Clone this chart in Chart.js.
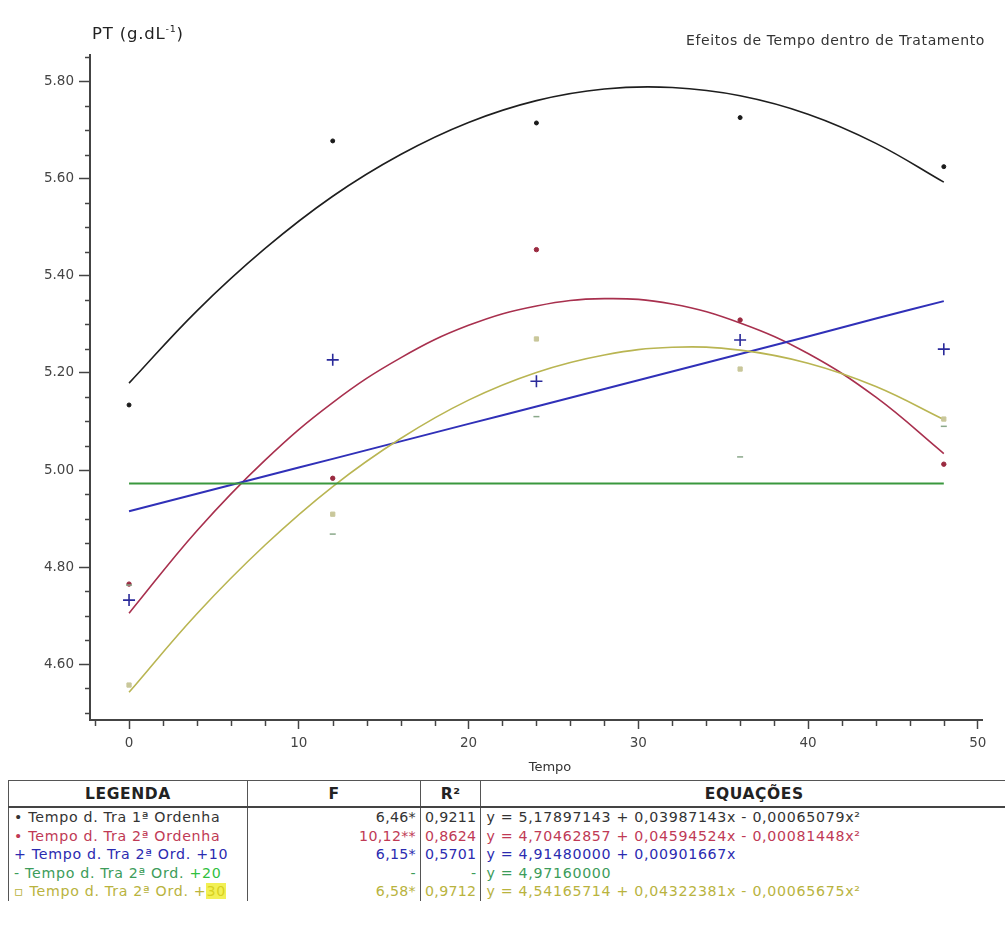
<!DOCTYPE html>
<html>
<head>
<meta charset="utf-8">
<script src="https://cdn.jsdelivr.net/npm/chart.js@4/dist/chart.umd.min.js"></script>
<style>
  html, body { margin:0; padding:0; background:#fff; width:1005px; height:933px; overflow:hidden; position:relative; font-family:"DejaVu Sans", "Liberation Sans", sans-serif; }
  #wrap { position:absolute; left:0; top:0; width:1005px; height:780px; }
  .ttl { position:absolute; color:#222; white-space:nowrap; }
  #ylab { left:92px; top:23px; font-size:16.5px; letter-spacing:0.8px; }
  #ylab sup { font-size:9.5px; }
  #rtitle { left:600px; top:32px; font-size:14px; letter-spacing:0.6px; color:#333; width:385px; text-align:right; }
  #xlab { left:500px; top:759px; width:100px; text-align:center; font-size:13px; color:#333; }
  table { position:absolute; left:8px; top:780px; border-collapse:collapse; font-size:14.2px; letter-spacing:0.7px; width:1020px; }
  td, th { border:1.5px solid #555; padding:0 5px; white-space:nowrap; height:18.5px; line-height:18px; }
  th { font-weight:bold; font-size:15.5px; letter-spacing:0.6px; height:25px; color:#222; border-bottom:2px solid #444; }
  tbody td { border-top:none; border-bottom:none; }
  td.n { text-align:right; padding:0 4px; letter-spacing:0.3px; }
  .r1 { color:#333; } .r2 { color:#c03a55; } .r3 { color:#2b2bb0; } .r4 { color:#3c9c5a; } .r5 { color:#b9b33e; }
  .hg { color:#2fc040; } .hy { background:#f2f055; color:#d8d020; }
</style>
</head>
<body>
<div id="wrap"><canvas id="c" width="1005" height="780"></canvas></div>
<div class="ttl" id="ylab">PT (g.dL<sup>-1</sup>)</div>
<div class="ttl" id="rtitle">Efeitos de Tempo dentro de Tratamento</div>
<div class="ttl" id="xlab">Tempo</div>
<table>
  <colgroup><col style="width:239px"><col style="width:173px"><col style="width:60px"><col></colgroup>
  <thead><tr><th>LEGENDA</th><th>F</th><th>R²</th><th>EQUAÇÕES</th></tr></thead>
  <tbody>
    <tr class="r1"><td>• Tempo d. Tra 1ª Ordenha</td><td class="n">6,46*</td><td class="n">0,9211</td><td>y = 5,17897143 + 0,03987143x - 0,00065079x²</td></tr>
    <tr class="r2"><td>• Tempo d. Tra 2ª Ordenha</td><td class="n">10,12**</td><td class="n">0,8624</td><td>y = 4,70462857 + 0,04594524x - 0,00081448x²</td></tr>
    <tr class="r3"><td>+ Tempo d. Tra 2ª Ord. +10</td><td class="n">6,15*</td><td class="n">0,5701</td><td>y = 4,91480000 + 0,00901667x</td></tr>
    <tr class="r4"><td>- Tempo d. Tra 2ª Ord. <span class="hg">+20</span></td><td class="n">-</td><td class="n">-</td><td>y = 4,97160000</td></tr>
    <tr class="r5"><td>▫ Tempo d. Tra 2ª Ord. +<span class="hy">30</span></td><td class="n">6,58*</td><td class="n">0,9712</td><td>y = 4,54165714 + 0,04322381x - 0,00065675x²</td></tr>
  </tbody>
</table>
<script>
// ---- data ----
const tempo = [0, 12, 24, 36, 48];
const obs1a = [5.134, 5.678, 5.715, 5.726, 5.625];   // 1ª Ordenha
const obs2a = [4.765, 4.983, 5.454, 5.309, 5.012];   // 2ª Ordenha
const obs10 = [4.732, 5.227, 5.183, 5.268, 5.249];   // 2ª Ord. +10
const obs20 = [4.763, 4.868, 5.110, 5.027, 5.090];   // 2ª Ord. +20
const obs30 = [4.557, 4.909, 5.270, 5.208, 5.105];   // 2ª Ord. +30

const curveX   = [0, 4, 8, 12, 16, 20, 24, 28, 32, 36, 40, 44, 48];
const curve1a  = [5.179, 5.328, 5.456, 5.564, 5.650, 5.716, 5.761, 5.785, 5.788, 5.771, 5.733, 5.673, 5.593];
const curve2a  = [4.705, 4.875, 5.020, 5.139, 5.231, 5.298, 5.338, 5.353, 5.342, 5.303, 5.240, 5.150, 5.034];
const curve10  = [4.915, 4.951, 4.987, 5.023, 5.059, 5.095, 5.131, 5.167, 5.203, 5.239, 5.275, 5.312, 5.348];
const curve20  = [4.972, 4.972, 4.972, 4.972, 4.972, 4.972, 4.972, 4.972, 4.972, 4.972, 4.972, 4.972, 4.972];
const curve30  = [4.542, 4.704, 4.845, 4.966, 5.065, 5.144, 5.201, 5.237, 5.253, 5.247, 5.220, 5.172, 5.104];

const xTickLabels = [0, 10, 20, 30, 40, 50];
const yTickLabels = [4.60, 4.80, 5.00, 5.20, 5.40, 5.60, 5.80];

// ---- helpers ----
const pts = (xs, ys) => xs.map((x, i) => ({x: x, y: ys[i]}));
const col = { k:'#1e1e1e', r:'#a8304e', b:'#3030b8', g:'#3a983e', y:'#b9b552' };

function curveDs(data, color, w) {
  return { type:'line', data: pts(curveX, data), borderColor: color, borderWidth: w, pointRadius: 0,
           tension: 0.4, fill:false, order: 2 };
}
function ptDs(data, style, color, r, bw) {
  return { type:'scatter', data: pts(tempo, data), pointStyle: style, pointRadius: r,
           backgroundColor: color, borderColor: color, pointBorderWidth: bw, showLine:false, order: 1 };
}

const isMajorY = v => yTickLabels.some(t => Math.abs(t - v) < 1e-6);
const isMajorX = v => xTickLabels.some(t => Math.abs(t - v) < 1e-6);

// draw short minor ticks through the scales
const minorTicks = {
  id: 'minorTicks',
  afterDraw(chart) {
    const ctx = chart.ctx;
    const xs = chart.scales.x, ys = chart.scales.y;
    ctx.save();
    ctx.strokeStyle = '#444';
    ctx.lineWidth = 1.5;
    ys.ticks.forEach(t => {
      if (isMajorY(t.value)) return;
      const py = Math.round(ys.getPixelForValue(t.value)) + 0.5;
      ctx.beginPath(); ctx.moveTo(ys.right - 5, py); ctx.lineTo(ys.right + 1, py); ctx.stroke();
    });
    xs.ticks.forEach(t => {
      if (isMajorX(t.value)) return;
      const px = Math.round(xs.getPixelForValue(t.value)) + 0.5;
      ctx.beginPath(); ctx.moveTo(px, xs.top - 1); ctx.lineTo(px, xs.top + 6); ctx.stroke();
    });
    ctx.restore();
  }
};

new Chart(document.getElementById('c'), {
  type: 'scatter',
  data: {
    datasets: [
      curveDs(curve20, col.g, 2),
      curveDs(curve30, col.y, 1.6),
      curveDs(curve10, col.b, 2),
      curveDs(curve2a, col.r, 1.6),
      curveDs(curve1a, col.k, 1.6),
      ptDs(obs20, 'line', '#8aa88a', 3, 1.5),
      ptDs(obs30, 'rect', '#c9c79a', 3, 1),
      ptDs(obs10, 'cross', '#2a2a9a', 6, 1.6),
      ptDs(obs2a, 'circle', '#9a2a40', 2.2, 1),
      ptDs(obs1a, 'circle', '#1a1a1a', 2, 1)
    ]
  },
  options: {
    responsive: false,
    animation: false,
    layout: { padding: { left: 0, right: 23, top: 55, bottom: 0 } },
    plugins: { legend: { display:false }, tooltip: { enabled:false }, title: { display:false } },
    scales: {
      x: {
        type: 'linear', min: -2.3, max: 50.25,
        border: { display:true, color:'#444', width:2 },
        grid: { drawOnChartArea:false, drawTicks:true, tickLength: 9,
                tickColor: c => isMajorX(c.tick.value) ? '#444' : 'rgba(0,0,0,0)', tickWidth: 1.5 },
        ticks: { stepSize: 2, includeBounds:false, autoSkip:false, maxRotation:0, padding: 6,
                 color:'#444', font:{ family:'DejaVu Sans', size:13.5 },
                 callback: v => isMajorX(v) ? String(Math.round(v)) : '' },
        title: { display:false },
        afterFit: s => { s.height = 60; }
      },
      y: {
        type: 'linear', min: 4.485, max: 5.855,
        border: { display:true, color:'#444', width:2 },
        grid: { drawOnChartArea:false, drawTicks:true, tickLength: 11,
                tickColor: c => isMajorY(c.tick.value) ? '#444' : 'rgba(0,0,0,0)', tickWidth: 1.5 },
        ticks: { stepSize: 0.05, includeBounds:false, autoSkip:false, padding: 5,
                 color:'#444', font:{ family:'DejaVu Sans', size:13.5 },
                 callback: v => isMajorY(v) ? v.toFixed(2) : '' },
        afterFit: s => { s.width = 90; }
      }
    }
  },
  plugins: [minorTicks]
});
</script>
</body>
</html>
